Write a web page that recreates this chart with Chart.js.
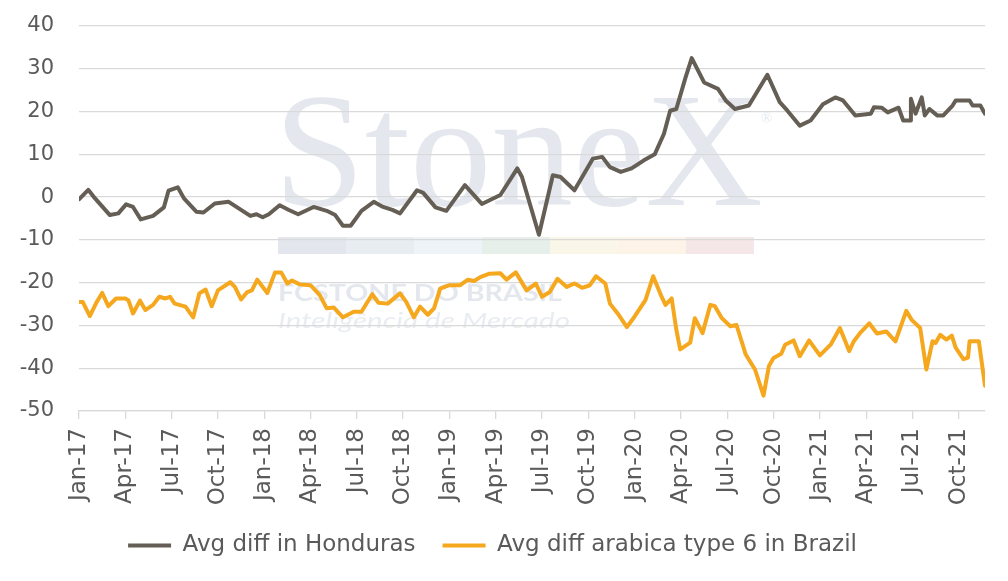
<!DOCTYPE html>
<html>
<head>
<meta charset="utf-8">
<title>Avg diff Honduras vs Brazil</title>
<script src="https://cdn.jsdelivr.net/npm/chart.js@4.4.1/dist/chart.umd.min.js"></script>
<style>
  html, body { margin: 0; padding: 0; background: #fff; }
  #wrap { position: relative; width: 1008px; height: 581px; }
</style>
</head>
<body>
<div id="wrap"><canvas id="chart-diff"></canvas></div>
<script>
/* ── Data (x = months since Jan-17) ─────────────────────── */
const tickLabels = ['Jan-17', 'Apr-17', 'Jul-17', 'Oct-17', 'Jan-18', 'Apr-18', 'Jul-18', 'Oct-18',
  'Jan-19', 'Apr-19', 'Jul-19', 'Oct-19', 'Jan-20', 'Apr-20', 'Jul-20', 'Oct-20',
  'Jan-21', 'Apr-21', 'Jul-21', 'Oct-21'];

const hondurasMonths = [0, 0.6, 1.04, 2.0, 2.55, 3.05, 3.5, 4.0, 4.8, 5.5,
  5.8, 6.4, 6.8, 7.6, 8.06, 8.8, 9.7, 10.2, 11.1, 11.5,
  11.9, 12.3, 13.0, 13.6, 14.2, 15.2, 16.05, 16.6, 17.1, 17.6,
  18.3, 19.1, 19.7, 20.3, 20.8, 21.9, 22.3, 23.1, 23.8, 25.0,
  26.1, 27.3, 28.4, 28.7, 29.8, 30.7, 31.2, 32.1, 33.3, 33.9,
  34.4, 35.1, 35.8, 36.6, 37.3, 37.9, 38.3, 38.7, 39.3, 39.7,
  40.5, 41.4, 41.9, 42.5, 43.4, 44.6, 45.4, 45.9, 46.7, 47.4,
  48.2, 49.0, 49.5, 50.3, 51.3, 51.5, 52.0, 52.4, 53.1, 53.4,
  53.85, 53.9, 54.2, 54.6, 54.8, 55.1, 55.6, 56.0, 56.6, 56.8,
  57.7, 57.9, 58.4, 58.7];
const hondurasValues = [-0.5, 1.7, -0.3, -4.2, -3.8, -1.7, -2.3, -5.2, -4.4, -2.4,
  1.5, 2.3, -0.3, -3.4, -3.6, -1.5, -1.1, -2.3, -4.4, -4.0,
  -4.7, -4.0, -1.9, -3.0, -4.0, -2.3, -3.2, -4.2, -6.7, -6.7,
  -3.2, -1.1, -2.3, -3.0, -3.8, 1.6, 1.0, -2.4, -3.2, 2.8,
  -1.6, 0.5, 6.7, 4.7, -8.8, 5.1, 4.7, 1.6, 9.0, 9.4,
  7.0, 5.9, 6.7, 8.6, 10.0, 14.8, 20.2, 20.6, 28.0, 32.5,
  26.8, 25.3, 22.6, 20.6, 21.4, 28.6, 22.2, 20.2, 16.7, 17.9,
  21.7, 23.3, 22.6, 19.1, 19.5, 21.0, 20.9, 19.8, 20.9, 17.9,
  17.9, 23.0, 19.5, 23.3, 19.1, 20.6, 19.1, 19.1, 21.4, 22.6,
  22.6, 21.4, 21.4, 19.5];

const brazilMonths = [0, 0.24, 0.7, 1.15, 1.5, 1.9, 2.4, 3.0, 3.2, 3.5,
  3.95, 4.3, 4.8, 5.2, 5.6, 5.9, 6.2, 6.9, 7.4, 7.8,
  8.2, 8.6, 9.0, 9.8, 10.1, 10.5, 10.9, 11.2, 11.55, 12.2,
  12.7, 13.1, 13.5, 13.8, 14.3, 15.0, 15.6, 16.05, 16.5, 17.1,
  17.8, 18.3, 19.0, 19.4, 20.0, 20.8, 21.2, 21.7, 22.1, 22.6,
  23.0, 23.4, 24.0, 24.7, 25.2, 25.6, 26.0, 26.6, 27.3, 27.7,
  28.3, 29.0, 29.6, 30.0, 30.5, 31.0, 31.6, 32.1, 32.6, 33.1,
  33.5, 34.1, 34.4, 34.9, 35.5, 36.0, 36.7, 37.2, 37.7, 38.0,
  38.4, 38.7, 38.95, 39.6, 39.9, 40.4, 40.9, 41.2, 41.65, 42.2,
  42.6, 43.2, 43.8, 44.35, 44.7, 45.0, 45.5, 45.75, 46.3, 46.7,
  47.3, 48.0, 48.7, 49.3, 49.9, 50.2, 50.6, 51.2, 51.7, 52.3,
  52.9, 53.6, 53.95, 54.5, 54.9, 55.3, 55.5, 55.8, 56.2, 56.55,
  56.8, 57.3, 57.6, 57.7, 58.3, 58.7];
const brazilValues = [-24.5, -24.5, -27.8, -24.5, -22.4, -25.5, -23.7, -23.7, -24.1, -27.2,
  -24.2, -26.4, -25.2, -23.3, -23.7, -23.3, -24.9, -25.6, -28.1, -22.5,
  -21.6, -25.5, -21.8, -19.9, -21.0, -23.9, -22.2, -21.8, -19.3, -22.4,
  -17.6, -17.6, -20.2, -19.5, -20.4, -20.6, -22.9, -26.0, -25.8, -28.1,
  -26.8, -26.8, -22.7, -24.7, -24.9, -22.5, -24.5, -28.1, -25.6, -27.5,
  -26.0, -21.4, -20.6, -20.6, -19.3, -19.6, -18.7, -17.9, -17.8, -19.3,
  -17.6, -21.8, -20.2, -23.3, -22.2, -19.1, -21.0, -20.2, -21.2, -20.6,
  -18.5, -20.2, -24.9, -27.2, -30.4, -27.9, -24.1, -18.5, -22.9, -25.2,
  -23.7, -31.0, -35.6, -34.0, -28.3, -31.8, -25.2, -25.5, -28.3, -30.2,
  -29.9, -36.8, -40.3, -46.4, -39.5, -37.6, -36.6, -34.5, -33.5, -37.2,
  -33.5, -37.0, -34.5, -30.6, -36.0, -33.7, -31.8, -29.5, -31.9, -31.4,
  -33.7, -26.6, -28.7, -30.6, -40.3, -33.7, -34.1, -32.2, -33.3, -32.4,
  -35.2, -37.9, -37.5, -33.7, -33.7, -44.1];

const TEXT = '#5a5a5a';
const GRID = '#d9d9d9';
const FONT = '"DejaVu Sans", Verdana, sans-serif';

/* ── Faint StoneX watermark behind the plot ─────────────── */
function wideText(ctx, text, x, y, targetWidth) {
  const w = ctx.measureText(text).width;
  ctx.save();
  ctx.translate(x, y);
  ctx.scale(targetWidth / w, 1);
  ctx.fillText(text, 0, 0);
  ctx.restore();
}

const watermark = {
  id: 'watermark',
  beforeDraw(chart) {
    const ctx = chart.ctx;
    ctx.save();
    ctx.fillStyle = '#e4e8ee';
    ctx.textBaseline = 'alphabetic';
    ctx.textAlign = 'left';
    ctx.font = '163px "Liberation Serif", serif';
    ctx.fillText('StoneX', 274, 205);
    ctx.font = '15px "Liberation Serif", serif';
    ctx.fillText('®', 761, 123);
    const bars = ['#e3e7ed', '#e8edf2', '#eef3f8', '#e6efe9', '#faf7e9', '#fdf3e6', '#f5e6e8'];
    bars.forEach((c, i) => {
      ctx.fillStyle = c;
      ctx.fillRect(278 + i * 68, 237, 68, 17);
    });
    ctx.fillStyle = '#e4e8ee';
    ctx.font = 'bold 23px Lato, sans-serif';
    wideText(ctx, 'FCSTONE DO BRASIL', 278, 301, 284);
    ctx.fillStyle = '#e9ecf1';
    ctx.font = 'italic 22px Lato, sans-serif';
    wideText(ctx, 'Inteligência de Mercado', 278, 328, 292);
    ctx.restore();
  }
};

const toPoints = (xs, ys) => xs.map((x, i) => ({ x: x, y: ys[i] }));

new Chart(document.getElementById('chart-diff'), {
  type: 'line',
  data: {
    datasets: [
      {
        label: 'Avg diff in Honduras',
        data: toPoints(hondurasMonths, hondurasValues),
        borderColor: '#655e55',
        backgroundColor: '#655e55',
        borderWidth: 4,
        borderCapStyle: 'round',
        borderJoinStyle: 'round',
        pointRadius: 0,
        tension: 0,
      },
      {
        label: 'Avg diff arabica type 6 in Brazil',
        data: toPoints(brazilMonths, brazilValues),
        borderColor: '#f5a71e',
        backgroundColor: '#f5a71e',
        borderWidth: 4,
        borderCapStyle: 'round',
        borderJoinStyle: 'round',
        pointRadius: 0,
        tension: 0,
      },
    ],
  },
  options: {
    responsive: true,
    maintainAspectRatio: false,
    animation: false,
    layout: { padding: { top: 26, right: 23, left: 0, bottom: 14 } },
    plugins: {
      legend: {
        position: 'bottom',
        labels: {
          font: { family: FONT, size: 23 },
          color: TEXT,
          usePointStyle: true,
          pointStyle: 'line',
          pointStyleWidth: 43,
          padding: 27,
        },
      },
      tooltip: { enabled: false },
    },
    scales: {
      x: {
        type: 'linear',
        min: 0,
        max: 58.7,
        afterBuildTicks: axis => {
          axis.ticks = tickLabels.map((_, i) => ({ value: i * 3 }));
        },
        afterFit: axis => { axis.height = 96; },
        grid: { drawOnChartArea: false, color: GRID, lineWidth: 1.3, tickLength: 8 },
        border: { color: GRID, width: 1.3 },
        ticks: {
          autoSkip: false,
          minRotation: 90,
          maxRotation: 90,
          padding: 9,
          color: TEXT,
          font: { family: FONT, size: 23 },
          callback: v => tickLabels[Math.round(v / 3)],
        },
      },
      y: {
        min: -50,
        max: 40,
        afterFit: axis => { axis.width = 79; },
        grid: { color: GRID, lineWidth: 1.3, drawTicks: true, tickLength: 23, tickColor: 'rgba(0,0,0,0)' },
        border: { display: false },
        ticks: {
          stepSize: 10,
          padding: 2,
          color: TEXT,
          font: { family: FONT, size: 21 },
        },
      },
    },
  },
  plugins: [watermark],
});
</script>
</body>
</html>
